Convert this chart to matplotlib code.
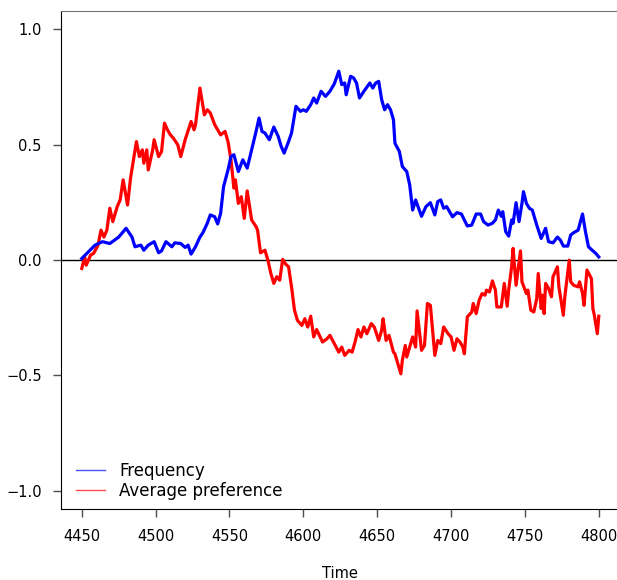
import matplotlib
matplotlib.use("Agg")
import matplotlib.pyplot as plt
from matplotlib.lines import Line2D

# Frequency series (blue)
t_freq = [4450, 4459, 4464, 4469, 4475, 4480, 4484, 4486, 4490, 4492, 4495, 4499,
          4502, 4504, 4507, 4511, 4513, 4517, 4520, 4522, 4524, 4527, 4530, 4532,
          4535, 4537, 4540, 4542, 4544, 4546, 4549, 4551, 4553, 4556, 4559, 4562,
          4565, 4568, 4570, 4572, 4574, 4577, 4580, 4583, 4585, 4587, 4590, 4592,
          4595, 4598, 4600, 4602, 4605, 4607, 4609, 4612, 4615, 4618, 4621, 4624,
          4626, 4628, 4629, 4632, 4634, 4636, 4638, 4641, 4645, 4647, 4649, 4651,
          4653, 4655, 4657, 4659, 4661, 4662, 4665, 4667, 4670, 4672, 4674, 4676,
          4678, 4680, 4683, 4686, 4689, 4691, 4693, 4695, 4697, 4699, 4701, 4704,
          4707, 4709, 4711, 4714, 4717, 4720, 4722, 4725, 4728, 4730, 4732, 4734,
          4735, 4737, 4739, 4741, 4742, 4744, 4746, 4748, 4749, 4751, 4753, 4755,
          4758, 4761, 4764, 4766, 4769, 4772, 4774, 4776, 4779, 4781, 4783, 4786,
          4789, 4791, 4793, 4795, 4798, 4800]
freq = [0.007, 0.065, 0.08, 0.072, 0.10, 0.138, 0.10, 0.058, 0.065, 0.043, 0.065, 0.08,
        0.032, 0.04, 0.08, 0.058, 0.075, 0.072, 0.055, 0.065, 0.026, 0.058, 0.10, 0.119,
        0.16, 0.196, 0.188, 0.157, 0.203, 0.319, 0.391, 0.449, 0.457, 0.384, 0.435, 0.399,
        0.478, 0.558, 0.616, 0.558, 0.551, 0.522, 0.577, 0.536, 0.493, 0.464, 0.514, 0.551,
        0.667, 0.645, 0.652, 0.645, 0.674, 0.703, 0.681, 0.732, 0.710, 0.732, 0.765, 0.819,
        0.761, 0.768, 0.717, 0.797, 0.790, 0.768, 0.703, 0.732, 0.768, 0.746, 0.768, 0.775,
        0.696, 0.652, 0.674, 0.652, 0.609, 0.507, 0.471, 0.406, 0.384, 0.326, 0.217, 0.261,
        0.225, 0.19, 0.232, 0.249, 0.196, 0.254, 0.261, 0.225, 0.232, 0.210, 0.188, 0.206,
        0.2, 0.174, 0.148, 0.152, 0.2, 0.2, 0.167, 0.152, 0.16, 0.174, 0.217, 0.19,
        0.21, 0.123, 0.104, 0.174, 0.16, 0.249, 0.167, 0.246, 0.297, 0.246, 0.225, 0.217,
        0.152, 0.094, 0.138, 0.08, 0.075, 0.10, 0.087, 0.061, 0.061, 0.109, 0.119, 0.13,
        0.2, 0.123, 0.058, 0.046, 0.029, 0.014]

# Average preference series (red)
t_pref = [4450, 4452, 4453, 4456, 4458, 4461, 4463, 4465, 4467, 4469, 4471, 4474,
          4476, 4478, 4481, 4483, 4485, 4487, 4489, 4491, 4492, 4494, 4495, 4498,
          4499, 4502, 4504, 4506, 4508, 4510, 4512, 4515, 4517, 4520, 4524, 4526,
          4527, 4530, 4533, 4535, 4537, 4540, 4542, 4544, 4547, 4549, 4551, 4553,
          4554, 4556, 4558, 4560, 4562, 4564, 4565, 4568, 4569, 4571, 4574, 4576,
          4578, 4580, 4582, 4584, 4586, 4588, 4590, 4592, 4594, 4596, 4599, 4601,
          4603, 4605, 4607, 4609, 4613, 4616, 4618, 4621, 4624, 4626, 4628, 4631,
          4633, 4635, 4637, 4639, 4641, 4643, 4646, 4648, 4651, 4653, 4654, 4656,
          4658, 4661, 4662, 4664, 4666, 4667, 4669, 4670, 4672, 4674, 4676, 4677,
          4680, 4682, 4684, 4686, 4689, 4691, 4693, 4695, 4698, 4700, 4702, 4704,
          4706, 4708, 4709, 4711, 4714, 4715, 4717, 4719, 4721, 4723, 4724, 4726,
          4728, 4730, 4731, 4734, 4736, 4738, 4739, 4741, 4742, 4744, 4747, 4748,
          4751, 4752, 4754, 4756, 4758, 4759, 4761, 4762, 4763, 4764, 4766, 4768,
          4769, 4772, 4773, 4776, 4777, 4780, 4781, 4783, 4786, 4787, 4789, 4790,
          4792, 4795, 4796, 4797, 4799, 4800]
pref = [-0.036, 0.014, -0.022, 0.022, 0.029, 0.065, 0.13, 0.10, 0.13, 0.225, 0.167, 0.232,
        0.261, 0.348, 0.239, 0.355, 0.435, 0.514, 0.449, 0.478, 0.420, 0.478, 0.391, 0.478,
        0.522, 0.449, 0.47, 0.594, 0.565, 0.543, 0.529, 0.5, 0.449, 0.522, 0.601, 0.565,
        0.587, 0.746, 0.630, 0.652, 0.638, 0.587, 0.565, 0.543, 0.558, 0.514, 0.435, 0.312,
        0.348, 0.246, 0.275, 0.181, 0.30, 0.217, 0.174, 0.145, 0.13, 0.032, 0.043, 0.0,
        -0.058, -0.101, -0.072, -0.087, 0.003, -0.017, -0.029, -0.116, -0.217, -0.261, -0.283, -0.254,
        -0.290, -0.243, -0.333, -0.301, -0.355, -0.341, -0.326, -0.362, -0.399, -0.377, -0.413, -0.391,
        -0.399, -0.355, -0.301, -0.333, -0.290, -0.319, -0.275, -0.29, -0.348, -0.304, -0.254, -0.348,
        -0.326, -0.399, -0.406, -0.449, -0.493, -0.435, -0.370, -0.420, -0.377, -0.333, -0.377, -0.22,
        -0.391, -0.370, -0.188, -0.196, -0.413, -0.348, -0.362, -0.290, -0.319, -0.333, -0.391, -0.341,
        -0.355, -0.377, -0.406, -0.246, -0.225, -0.188, -0.232, -0.174, -0.145, -0.152, -0.130, -0.138,
        -0.090, -0.130, -0.203, -0.203, -0.101, -0.2, -0.130, -0.029, 0.051, -0.109, 0.040, -0.094,
        -0.145, -0.130, -0.217, -0.225, -0.167, -0.058, -0.210, -0.152, -0.232, -0.101, -0.123, -0.159,
        -0.072, -0.029, -0.116, -0.239, -0.159, 0.0, -0.094, -0.109, -0.116, -0.094, -0.145, -0.196,
        -0.043, -0.080, -0.210, -0.239, -0.319, -0.243]

x_ticks = [4450, 4500, 4550, 4600, 4650, 4700, 4750, 4800]
y_ticks = [-1.0, -0.5, 0.0, 0.5, 1.0]

plt.rcParams["font.family"] = ["DejaVu Sans"]
plt.rcParams["font.size"] = 10.5

fig = plt.figure(figsize=(6.17, 5.8), dpi=100)
ax = fig.add_axes([0.099, 0.122, 0.905, 0.859])

ax.axhline(0, color="black", lw=1.0, zorder=1)
ax.plot(t_freq, freq, color="blue", lw=2.3, zorder=3)
ax.plot(t_pref, pref, color="red", lw=2.3, zorder=2)

ax.set_xlim(4436, 4814)
ax.set_ylim(-1.08, 1.08)
ax.set_xticks(x_ticks)
ax.set_yticks(y_ticks)
ax.set_xlabel("Time", labelpad=16)
ax.tick_params(direction="out", length=6, width=1, pad=8, color="0.3")

ax.spines["right"].set_visible(False)
ax.spines["top"].set_color("0.45")

# thin handles for the legend
handles = [Line2D([], [], color="blue", lw=1, alpha=0.7),
           Line2D([], [], color="red", lw=1, alpha=0.7)]
ax.legend(handles, ["Frequency", "Average preference"], loc="lower left",
          frameon=False, fontsize=12, handlelength=1.75, handletextpad=0.85,
          labelspacing=0.1, borderaxespad=0, bbox_to_anchor=(0.014, 0.006))

fig.savefig("out.png", dpi=100)
